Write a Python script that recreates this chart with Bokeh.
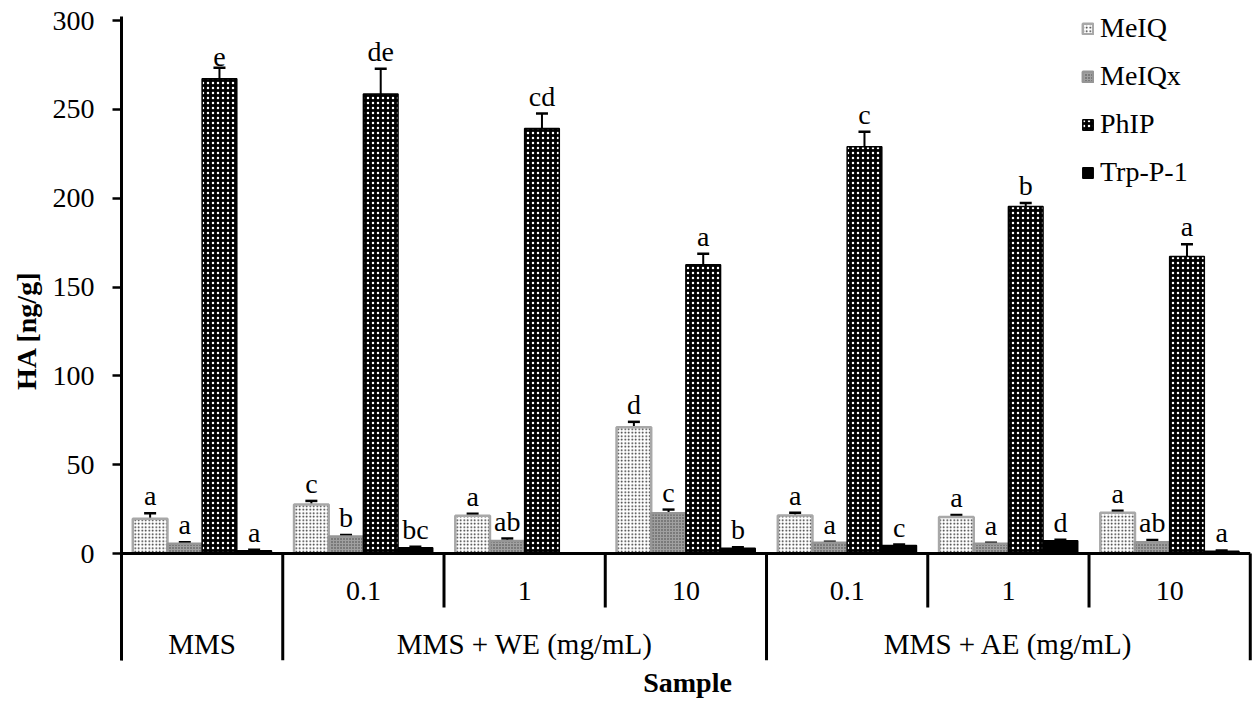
from bokeh.plotting import figure
from bokeh.models import (Range1d, FixedTicker, ColumnDataSource, Whisker, TeeHead,
                          Legend, LegendItem)
from bokeh.core.properties import value
from bokeh.embed import file_html
from bokeh.resources import INLINE

# ---------------- data ----------------
samples = ["MMS", "0.1", "1", "10", "0.1", "1", "10"]
groups = ["MMS", "MMS + WE (mg/mL)", "MMS + AE (mg/mL)"]
group_sizes = [1, 3, 3]
series = ["MeIQ", "MeIQx", "PhIP", "Trp-P-1"]

meiq = [19.5, 27.6, 21.2, 71.1, 21.4, 20.6, 22.9]
meiq_err = [3.2, 2.0, 1.2, 3.0, 1.5, 1.0, 1.2]
meiq_let = ["a", "c", "a", "d", "a", "a", "a"]

meiqx = [5.5, 9.6, 7.0, 22.7, 6.0, 5.5, 6.4]
meiqx_err = [0.8, 0.8, 1.4, 2.0, 0.6, 0.6, 1.2]
meiqx_let = ["a", "b", "ab", "c", "a", "a", "ab"]

phip = [267.2, 258.6, 239.2, 162.5, 229.0, 195.3, 167.2]
phip_err = [6.2, 14.2, 8.4, 6.2, 8.4, 2.0, 6.8]
phip_let = ["e", "de", "cd", "a", "c", "b", "a"]

trp = [1.6, 3.3, 0.0, 3.0, 4.5, 7.2, 1.3]
trp_err = [0.5, 0.5, 0.0, 0.5, 0.5, 0.5, 0.4]
trp_let = ["a", "bc", "", "b", "c", "d", "a"]

y_ticks = [0, 50, 100, 150, 200, 250, 300]

# ---------------- styles ----------------
FONT = "Liberation Serif"
FS = "28px"
bar_w = 0.215
styles = [
    dict(fill_color="white", hatch_pattern="dot", hatch_color="#202020", hatch_scale=3.5,
         hatch_weight=1.6, line_color="#a8a8a8", line_width=2.5),
    dict(fill_color="#a0a0a0", hatch_pattern="dot", hatch_color="#404040", hatch_scale=3,
         hatch_weight=1.5, line_color="#969696", line_width=2.5),
    dict(fill_color="black", hatch_pattern="dot", hatch_color="white", hatch_scale=5,
         hatch_weight=1.5, line_color="black", line_width=1.5),
    dict(fill_color="black", line_color="black", line_width=1.5),
]

k = 533 / 300.0  # px per unit
y_top = 300 + 20 / k     # frame reaches the top of the page
axis_top = 300 + 4 / k   # axis line starts a little above 300
y_bot = -107 / k

p = figure(width=1254, height=704, output_backend="svg", toolbar_location=None,
           x_range=Range1d(0, 7.02), y_range=Range1d(y_bot, y_top),
           min_border_left=121, min_border_right=1, min_border_top=0, min_border_bottom=44)
p.background_fill_color = "white"
p.border_fill_color = "white"
p.outline_line_color = None
p.xgrid.visible = False
p.ygrid.visible = False

# y axis
ya = p.yaxis[0]
ya.ticker = FixedTicker(ticks=y_ticks)
ya.bounds = (y_bot, axis_top)
ya.axis_line_width = 3
ya.axis_line_color = "black"
ya.major_tick_out = 9
ya.major_tick_in = 0
ya.major_tick_line_width = 2.5
ya.minor_tick_line_color = None
ya.major_label_text_font = FONT
ya.major_label_text_font_size = FS
ya.major_label_text_color = "black"
ya.major_label_standoff = 18
ya.axis_label = "HA [ng/g]"
ya.axis_label_text_font = FONT
ya.axis_label_text_font_size = FS
ya.axis_label_text_font_style = "bold"
ya.axis_label_text_color = "black"
ya.axis_label_standoff = 8

# x axis only carries the title
xa = p.xaxis[0]
xa.ticker = FixedTicker(ticks=[])
xa.axis_line_color = None
xa.major_tick_line_color = None
xa.minor_tick_line_color = None
xa.axis_label = "Sample"
xa.axis_label_text_font = FONT
xa.axis_label_text_font_size = FS
xa.axis_label_text_font_style = "bold"
xa.axis_label_text_color = "black"
xa.axis_label_standoff = 6

# ---------------- bars ----------------
vals = [meiq, meiqx, phip, trp]
errs = [meiq_err, meiqx_err, phip_err, trp_err]
lets = [meiq_let, meiqx_let, phip_let, trp_let]
offsets = [-1.5, -0.5, 0.5, 1.5]
renderers = []
for s in range(4):
    xs = [i + 0.5 + offsets[s] * bar_w for i in range(len(samples))]
    src = ColumnDataSource(dict(x=xs, top=vals[s]))
    r = p.vbar(x="x", top="top", width=bar_w, bottom=0, source=src, **styles[s])
    renderers.append(r)
    # error bars
    ex = [x for x, e in zip(xs, errs[s]) if e > 0]
    ev = [v for v, e in zip(vals[s], errs[s]) if e > 0]
    ee = [e for e in errs[s] if e > 0]
    esrc = ColumnDataSource(dict(x=ex, upper=[v + e for v, e in zip(ev, ee)],
                                 lower=[v - e for v, e in zip(ev, ee)]))
    w = Whisker(source=esrc, base="x", upper="upper", lower="lower",
                line_color="black", line_width=2,
                upper_head=TeeHead(size=12, line_width=2.5, line_color="black"),
                lower_head=TeeHead(size=12, line_width=2.5, line_color="black"))
    p.add_layout(w)
    # letters
    lx = [x for x, t in zip(xs, lets[s]) if t]
    ly = [v + e for v, e, t in zip(vals[s], errs[s], lets[s]) if t]
    lt = [t for t in lets[s] if t]
    p.text(x=lx, y=ly, text=lt, text_align="center", text_baseline="bottom",
           y_offset=-2, text_font=value(FONT), text_font_size=FS, text_color="black")

# ---------------- category axis ----------------
p.segment(x0=[0], y0=[0], x1=[len(samples)], y1=[0], line_color="black", line_width=3)
bounds = [0]
for g in group_sizes:
    bounds.append(bounds[-1] + g)
p.segment(x0=bounds, y0=[0] * len(bounds), x1=bounds, y1=[y_bot] * len(bounds),
          line_color="black", line_width=3)
sub_bounds = []
start = 0
for g in group_sizes:
    for j in range(1, g):
        sub_bounds.append(start + j)
    start += g
p.segment(x0=sub_bounds, y0=[0] * len(sub_bounds), x1=sub_bounds,
          y1=[-30.4] * len(sub_bounds), line_color="black", line_width=3)

sub_x = [i + 0.5 for i in range(len(samples)) if i >= group_sizes[0]]
sub_t = [samples[i] for i in range(len(samples)) if i >= group_sizes[0]]
p.text(x=sub_x, y=[-21.0] * len(sub_x), text=sub_t, text_align="center",
       text_baseline="middle", text_font=value(FONT), text_font_size=FS,
       text_color="black")
gx = [(bounds[i] + bounds[i + 1]) / 2 for i in range(len(groups))]
p.text(x=gx, y=[-51.0] * len(gx), text=groups, text_align="center",
       text_baseline="middle", text_font=value(FONT), text_font_size="29px",
       text_color="black")

# ---------------- legend ----------------
legend = Legend(items=[LegendItem(label=series[s], renderers=[renderers[s]]) for s in range(4)],
                location=(960, 471), padding=0, margin=0, spacing=14,
                glyph_width=13, glyph_height=13, label_height=34, label_standoff=6,
                label_text_font=FONT, label_text_font_size=FS, label_text_color="black",
                border_line_color=None, background_fill_alpha=0)
p.add_layout(legend, "center")

open("out.html", "w").write(file_html(p, INLINE))
